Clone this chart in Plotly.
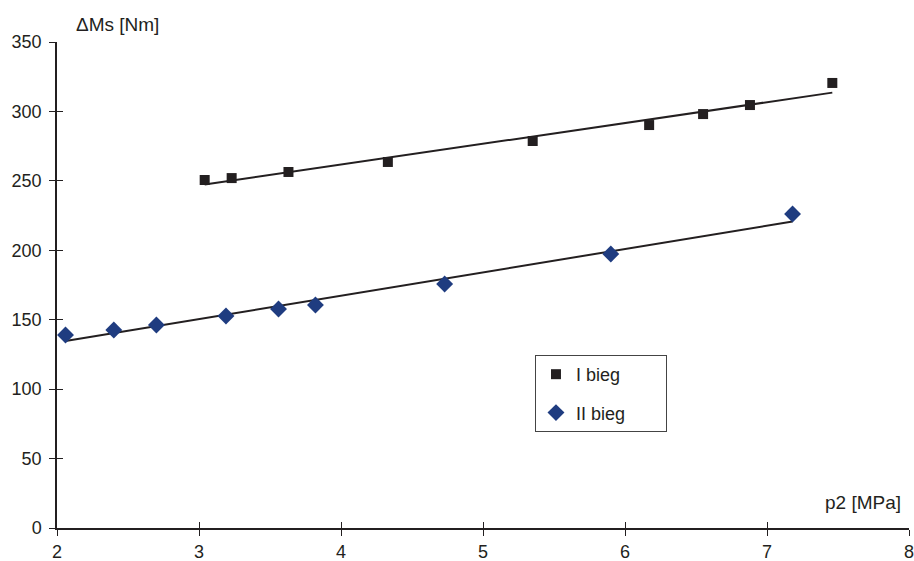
import numpy as np
import plotly.graph_objects as go

# Data
p2_I = [3.04, 3.23, 3.63, 4.33, 5.35, 6.17, 6.55, 6.88, 7.46]
dMs_I = [250.6, 252.0, 256.4, 263.6, 278.7, 290.2, 298.1, 304.6, 320.5]
p2_II = [2.06, 2.40, 2.70, 3.19, 3.56, 3.82, 4.73, 5.90, 7.18]
dMs_II = [139.0, 142.6, 146.2, 152.7, 157.7, 160.6, 175.7, 197.3, 226.1]
x_ticks = [2, 3, 4, 5, 6, 7, 8]
y_ticks = [0, 50, 100, 150, 200, 250, 300, 350]

FONT = "Arial, Liberation Sans, Helvetica, sans-serif"
BLACK = "#231f20"
BLUE = "#1f3c80"

def trend(x, y):
    k, b = np.polyfit(x, y, 1)
    xs = np.array([min(x), max(x)])
    return xs, k * xs + b

fig = go.Figure()
tx, ty = trend(p2_I, dMs_I)
fig.add_trace(go.Scatter(x=tx, y=ty, mode="lines", line=dict(color=BLACK, width=2),
                         showlegend=False, hoverinfo="skip"))
tx, ty = trend(p2_II, dMs_II)
fig.add_trace(go.Scatter(x=tx, y=ty, mode="lines", line=dict(color=BLACK, width=2),
                         showlegend=False, hoverinfo="skip"))
fig.add_trace(go.Scatter(x=p2_I, y=dMs_I, mode="markers",
                         name="I bieg\u00a0\u00a0\u00a0\u00a0\u00a0\u00a0\u00a0\u00a0",
                         marker=dict(symbol="square", size=10, color=BLACK),
                         legendgroup="a"))
fig.add_trace(go.Scatter(x=p2_II, y=dMs_II, mode="markers",
                         name="II bieg\u00a0\u00a0\u00a0\u00a0\u00a0\u00a0\u00a0",
                         marker=dict(symbol="diamond", size=13, color=BLUE),
                         legendgroup="b"))

axis_common = dict(showgrid=False, zeroline=False, ticks="outside", ticklen=6,
                   tickwidth=1, tickcolor=BLACK, showline=True, linecolor=BLACK,
                   linewidth=1.5, automargin=False, ticklabeloverflow="allow",
                   tickfont=dict(family=FONT, size=18, color=BLACK))

fig.update_layout(
    width=914, height=561,
    margin=dict(l=57, r=5, t=42, b=33),
    paper_bgcolor="white", plot_bgcolor="white",
    font=dict(family=FONT, color=BLACK),
    xaxis=dict(range=[2, 8], tickvals=x_ticks, ticklabelstandoff=1, **axis_common),
    yaxis=dict(range=[0, 350], tickvals=y_ticks, ticklabelstandoff=4, **axis_common),
    xaxis2=dict(range=[2, 8], tickvals=x_ticks, overlaying="x", anchor="y",
                side="bottom", ticks="inside", ticklen=6, tickcolor=BLACK,
                automargin=False,
                showticklabels=False, showgrid=False, zeroline=False, showline=False),
    yaxis2=dict(range=[0, 350], tickvals=y_ticks, overlaying="y", anchor="x",
                side="left", ticks="inside", ticklen=6, tickcolor=BLACK,
                automargin=False,
                showticklabels=False, showgrid=False, zeroline=False, showline=False),
    legend=dict(x=0.561, y=0.356, xanchor="left", yanchor="top",
                bordercolor="#444444", borderwidth=1, bgcolor="white",
                font=dict(family=FONT, size=18, color=BLACK),
                tracegroupgap=12, itemwidth=30),
    showlegend=True,
    annotations=[
        dict(text="ΔMs [Nm]", x=0.02, y=1.0, xref="paper", yref="paper",
             xanchor="left", yanchor="bottom", showarrow=False, yshift=5,
             font=dict(family=FONT, size=19, color=BLACK)),
        dict(text="p2 [MPa]", x=0.993, y=0.0, xref="paper", yref="paper",
             xanchor="right", yanchor="bottom", showarrow=False, yshift=13,
             font=dict(family=FONT, size=19, color=BLACK)),
    ],
)
# dummy invisible trace to activate secondary axes
fig.add_trace(go.Scatter(x=[2], y=[0], xaxis="x2", yaxis="y2", mode="markers",
                         marker=dict(opacity=0), showlegend=False, hoverinfo="skip"))

fig.write_html("out.html", config={"displayModeBar": False},
               post_script="document.body.style.margin='0';document.body.style.overflow='hidden';")
